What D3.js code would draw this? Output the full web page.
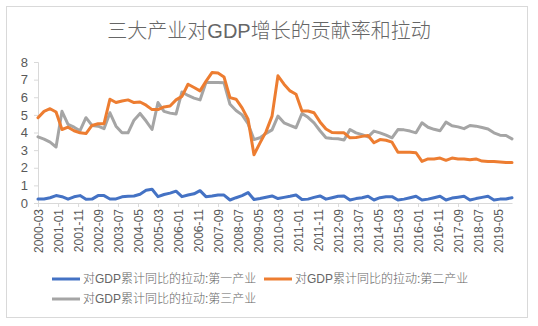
<!DOCTYPE html>
<html>
<head>
<meta charset="utf-8">
<script src="https://cdn.jsdelivr.net/npm/d3@7"></script>
<style>
  body { margin: 0; background: #fff; }
  text { font-family: "Liberation Sans", "Noto Sans CJK SC", sans-serif; }
</style>
</head>
<body>
<div id="wrapper"></div>
<script>
// quarterly, 2000-03 .. 2019-12
const startMonth = "2000-03";
const quarterCount = 80;

const seriesNames = [
    "对GDP累计同比的拉动:第一产业",
    "对GDP累计同比的拉动:第二产业",
    "对GDP累计同比的拉动:第三产业"
];
const seriesColors = ["#4472C4", "#ED7D31", "#A5A5A5"];

const primary = [
    0.22, 0.23, 0.30, 0.42, 0.36, 0.22, 0.35, 0.42, 0.21, 0.22,
    0.42, 0.42, 0.23, 0.23, 0.35, 0.38, 0.40, 0.50, 0.72, 0.78,
    0.36, 0.48, 0.56, 0.67, 0.36, 0.45, 0.52, 0.70, 0.36, 0.40,
    0.45, 0.45, 0.17, 0.30, 0.42, 0.59, 0.20, 0.26, 0.33, 0.40,
    0.25, 0.32, 0.38, 0.45, 0.20, 0.22, 0.32, 0.40, 0.22, 0.30,
    0.38, 0.40, 0.17, 0.25, 0.30, 0.38, 0.17, 0.30, 0.36, 0.36,
    0.17, 0.22, 0.30, 0.38, 0.17, 0.22, 0.30, 0.38, 0.17, 0.28,
    0.33, 0.38, 0.17, 0.25, 0.32, 0.38, 0.17, 0.22, 0.23, 0.30
];
const secondary = [
    4.84, 5.20, 5.35, 5.16, 4.17, 4.30, 4.10, 3.98, 3.94, 4.40,
    4.50, 4.50, 5.89, 5.70, 5.79, 5.85, 5.70, 5.73, 5.55, 5.30,
    5.30, 5.45, 5.50, 5.85, 6.05, 6.74, 6.55, 6.36, 6.90, 7.40,
    7.37, 7.15, 5.98, 5.89, 5.40, 4.75, 2.74, 3.41, 4.05, 4.93,
    7.22, 6.74, 6.36, 6.17, 5.22, 5.22, 5.12, 4.60, 4.20, 4.00,
    3.98, 3.98, 3.70, 3.72, 3.78, 3.83, 3.42, 3.60, 3.56, 3.45,
    2.88, 2.88, 2.88, 2.85, 2.36, 2.50, 2.50, 2.55, 2.42, 2.55,
    2.50, 2.50, 2.45, 2.50, 2.38, 2.36, 2.36, 2.33, 2.30, 2.30
];
const tertiary = [
    3.75, 3.62, 3.45, 3.18, 5.20, 4.46, 4.30, 4.10, 4.84, 4.40,
    4.36, 4.22, 5.12, 4.36, 3.98, 3.98, 4.70, 5.08, 4.65, 4.17,
    5.70, 5.20, 5.10, 5.05, 6.30, 6.10, 5.95, 5.85, 6.84, 6.84,
    6.84, 6.82, 5.60, 5.25, 5.00, 4.50, 3.60, 3.70, 3.95, 4.15,
    4.93, 4.55, 4.40, 4.27, 5.08, 4.86, 4.55, 4.10, 3.70, 3.66,
    3.64, 3.58, 4.17, 3.98, 3.88, 3.75, 4.08, 3.98, 3.85, 3.70,
    4.17, 4.15, 4.08, 3.98, 4.55, 4.30, 4.18, 4.10, 4.59, 4.38,
    4.32, 4.22, 4.40, 4.36, 4.28, 4.20, 3.98, 3.85, 3.83, 3.64
];
const yTicks = [0, 1, 2, 3, 4, 5, 6, 7, 8];

const width = 538;
const height = 326;
const margin = { top: 62, right: 26, bottom: 123, left: 38 };

const parseMonth = d3.timeParse("%Y-%m");
const formatMonth = d3.timeFormat("%Y-%m");
const start = parseMonth(startMonth);
const dates = d3.range(quarterCount).map(i => d3.timeMonth.offset(start, i * 3));
const lastDate = dates[dates.length - 1];
const tickDates = d3.timeMonth.range(start, d3.timeMonth.offset(lastDate, 1))
    .filter((d, i) => i % 10 === 0);

const allSeries = [primary, secondary, tertiary].map((vals, k) => ({
    name: seriesNames[k],
    color: seriesColors[k],
    points: vals.map((v, i) => ({ date: dates[i], value: v }))
}));

const svg = d3.select("#wrapper")
    .append("svg")
    .attr("width", width)
    .attr("height", height);

svg.append("rect")
    .attr("x", 6.5).attr("y", 6.5)
    .attr("width", 521).attr("height", 311)
    .attr("fill", "#fff")
    .attr("stroke", "#d9d9d9");

svg.append("text")
    .attr("x", 269)
    .attr("y", 38)
    .attr("text-anchor", "middle")
    .style("font-size", "20px")
    .style("font-weight", 300)
    .style("fill", "#666")
    .text("三大产业对GDP增长的贡献率和拉动");

const x = d3.scaleTime()
    .domain([start, lastDate])
    .range([margin.left, width - margin.right]);

const y = d3.scaleLinear()
    .domain([0, 8])
    .range([height - margin.bottom, margin.top]);

const yAxis = svg.append("g")
    .attr("transform", `translate(${margin.left},0)`)
    .call(d3.axisLeft(y).tickValues(yTicks).tickSize(4).tickPadding(6));
yAxis.select(".domain").attr("stroke", "#d9d9d9");
yAxis.selectAll(".tick line").attr("stroke", "#d9d9d9");
yAxis.selectAll(".tick text")
    .style("font-size", "13px")
    .style("fill", "#595959");

const xAxis = svg.append("g")
    .attr("transform", `translate(0,${height - margin.bottom})`)
    .call(d3.axisBottom(x).tickValues(tickDates).tickFormat(formatMonth).tickSize(4).tickSizeOuter(0));
xAxis.select(".domain").attr("stroke", "#d9d9d9");
xAxis.selectAll(".tick line").attr("stroke", "#d9d9d9");
xAxis.selectAll(".tick text")
    .attr("transform", "rotate(-90)")
    .attr("text-anchor", "end")
    .attr("x", -6)
    .attr("y", 0)
    .attr("dy", "0.35em")
    .style("font-size", "12px")
    .style("fill", "#595959");

const line = d3.line()
    .x(d => x(d.date))
    .y(d => y(d.value));

svg.append("g")
    .selectAll("path")
    .data([allSeries[0], allSeries[1], allSeries[2]].reverse())
    .join("path")
    .attr("d", d => line(d.points))
    .attr("fill", "none")
    .attr("stroke", d => d.color)
    .attr("stroke-width", 3)
    .attr("stroke-linejoin", "round")
    .attr("stroke-linecap", "round");

// legend
const legendPos = [
    { x: 52, y: 279 },
    { x: 264, y: 279 },
    { x: 52, y: 299 }
];
const legend = svg.append("g")
    .selectAll("g")
    .data(allSeries)
    .join("g")
    .attr("transform", (d, i) => `translate(${legendPos[i].x},${legendPos[i].y})`);

legend.append("line")
    .attr("x1", 0).attr("x2", 28)
    .attr("stroke", d => d.color)
    .attr("stroke-width", 3);

legend.append("text")
    .attr("x", 31)
    .attr("dy", "0.35em")
    .style("font-size", "12px")
    .style("font-weight", 300)
    .style("fill", "#666")
    .text(d => d.name);
</script>
</body>
</html>
